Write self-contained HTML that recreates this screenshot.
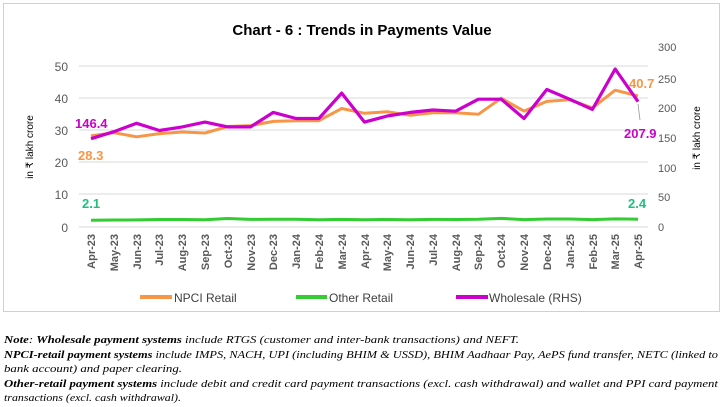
<!DOCTYPE html>
<html><head><meta charset="utf-8"><style>
body{margin:0;background:#fff;width:725px;height:407px;overflow:hidden}
svg{display:block}
text{font-family:"Liberation Sans",sans-serif}
</style></head><body>
<svg width="725" height="407" viewBox="0 0 725 407" xmlns="http://www.w3.org/2000/svg">
<rect x="3.5" y="3.5" width="716" height="308" fill="#fff" stroke="#d0d0d0"/>
<text x="362" y="35" text-anchor="middle" font-size="15" font-weight="bold" fill="#000">Chart - 6 : Trends in Payments Value</text>
<g stroke="#d9d9d9" stroke-width="1">
<line x1="79" y1="66" x2="648" y2="66"/><line x1="79" y1="98" x2="648" y2="98"/>
<line x1="79" y1="130" x2="648" y2="130"/><line x1="79" y1="162" x2="648" y2="162"/>
<line x1="79" y1="194" x2="648" y2="194"/><line x1="79" y1="227" x2="648" y2="227"/>
</g>
<g fill="#595959" font-size="12" text-anchor="end">
<text x="68" y="71">50</text><text x="68" y="103">40</text><text x="68" y="135">30</text>
<text x="68" y="167">20</text><text x="68" y="199">10</text><text x="68" y="232">0</text>
</g>
<g fill="#595959" font-size="11" text-anchor="start">
<text x="658" y="51">300</text><text x="658" y="83">250</text><text x="658" y="112">200</text>
<text x="658" y="142">150</text><text x="658" y="172">100</text><text x="658" y="201">50</text><text x="658" y="231">0</text>
</g>
<text transform="translate(33,147) rotate(-90)" text-anchor="middle" font-size="10" fill="#000">in ₹ lakh crore</text>
<text transform="translate(700,138) rotate(-90)" text-anchor="middle" font-size="10" fill="#000">in ₹ lakh crore</text>
<g font-size="11" font-weight="bold" fill="#595959" text-anchor="end">
<text transform="translate(95,234) rotate(-90)">Apr-23</text>
<text transform="translate(118,234) rotate(-90)">May-23</text>
<text transform="translate(141,234) rotate(-90)">Jun-23</text>
<text transform="translate(163,234) rotate(-90)">Jul-23</text>
<text transform="translate(186,234) rotate(-90)">Aug-23</text>
<text transform="translate(209,234) rotate(-90)">Sep-23</text>
<text transform="translate(232,234) rotate(-90)">Oct-23</text>
<text transform="translate(255,234) rotate(-90)">Nov-23</text>
<text transform="translate(277,234) rotate(-90)">Dec-23</text>
<text transform="translate(300,234) rotate(-90)">Jan-24</text>
<text transform="translate(323,234) rotate(-90)">Feb-24</text>
<text transform="translate(346,234) rotate(-90)">Mar-24</text>
<text transform="translate(369,234) rotate(-90)">Apr-24</text>
<text transform="translate(391,234) rotate(-90)">May-24</text>
<text transform="translate(414,234) rotate(-90)">Jun-24</text>
<text transform="translate(437,234) rotate(-90)">Jul-24</text>
<text transform="translate(460,234) rotate(-90)">Aug-24</text>
<text transform="translate(482,234) rotate(-90)">Sep-24</text>
<text transform="translate(505,234) rotate(-90)">Oct-24</text>
<text transform="translate(528,234) rotate(-90)">Nov-24</text>
<text transform="translate(551,234) rotate(-90)">Dec-24</text>
<text transform="translate(574,234) rotate(-90)">Jan-25</text>
<text transform="translate(597,234) rotate(-90)">Feb-25</text>
<text transform="translate(619,234) rotate(-90)">Mar-25</text>
<text transform="translate(642,234) rotate(-90)">Apr-25</text>
</g>
<polyline fill="none" stroke="#f79646" stroke-width="3" stroke-linejoin="round" points="91,135.9 113.8,132.7 136.6,136.8 159.4,133.6 182.2,132 205,133 227.7,126.5 250.5,125.6 273.3,121.4 296.1,120.7 318.9,120.7 341.7,108.5 364.5,113.3 387.3,111.7 410.1,115.3 432.9,112.7 455.6,112.7 478.4,114.3 501.2,98.2 524,111.1 546.8,101.4 569.6,99.8 592.4,107.9 615.2,90.2 638,95.9"/>
<polyline fill="none" stroke="#33cc33" stroke-width="3" stroke-linejoin="round" points="91,220.2 113.8,220 136.6,219.9 159.4,219.5 182.2,219.5 205,219.8 227.7,218.5 250.5,219.4 273.3,219.2 296.1,219.2 318.9,219.8 341.7,219.4 364.5,219.7 387.3,219.5 410.1,219.8 432.9,219.4 455.6,219.5 478.4,219.3 501.2,218.4 524,219.6 546.8,219 569.6,219 592.4,219.6 615.2,218.9 638,219.2"/>
<polyline fill="none" stroke="#cc00cc" stroke-width="3.2" stroke-linejoin="round" points="91,138.7 113.8,131.7 136.6,123.3 159.4,130.5 182.2,126.9 205,122.1 227.7,126.9 250.5,126.9 273.3,112.4 296.1,118.5 318.9,118.5 341.7,93.1 364.5,122.1 387.3,116 410.1,112.4 432.9,110 455.6,111.2 478.4,99.2 501.2,99.2 524,118.5 546.8,89.5 569.6,99.2 592.4,109.4 615.2,69 638,101.6"/>
<line x1="638" y1="104" x2="640" y2="120" stroke="#999" stroke-width="0.8"/>
<g font-size="13" font-weight="bold">
<text x="75" y="128" fill="#cc00cc">146.4</text>
<text x="78" y="160" fill="#f79646">28.3</text>
<text x="82" y="208" fill="#1fbf80">2.1</text>
<text x="629" y="88" fill="#f79646">40.7</text>
<text x="624" y="138" fill="#cc00cc">207.9</text>
<text x="628" y="208" fill="#1fbf80">2.4</text>
</g>
<g font-size="12" fill="#404040">
<line x1="140" y1="297" x2="172" y2="297" stroke="#f79646" stroke-width="4"/><text x="174" y="302">NPCI Retail</text>
<line x1="296" y1="297" x2="327" y2="297" stroke="#33cc33" stroke-width="4"/><text x="329" y="302">Other Retail</text>
<line x1="456" y1="297" x2="488" y2="297" stroke="#cc00cc" stroke-width="4"/><text x="489" y="302">Wholesale (RHS)</text>
</g>
<g font-size="10.5" font-style="italic" fill="#000" style="font-family:'Liberation Serif',serif">
<text x="4" y="343" textLength="515" lengthAdjust="spacingAndGlyphs" style="font-family:'Liberation Serif',serif"><tspan font-weight="bold">Note</tspan>: <tspan font-weight="bold">Wholesale payment systems</tspan> include RTGS (customer and inter-bank transactions) and NEFT.</text>
<text x="4" y="358" textLength="714" lengthAdjust="spacingAndGlyphs" style="font-family:'Liberation Serif',serif"><tspan font-weight="bold">NPCI-retail payment systems</tspan> include IMPS, NACH, UPI (including BHIM &amp; USSD), BHIM Aadhaar Pay, AePS fund transfer, NETC (linked to</text>
<text x="4" y="372" textLength="178" lengthAdjust="spacingAndGlyphs" style="font-family:'Liberation Serif',serif">bank account) and paper clearing.</text>
<text x="4" y="387" textLength="714" lengthAdjust="spacingAndGlyphs" style="font-family:'Liberation Serif',serif"><tspan font-weight="bold">Other-retail payment systems</tspan> include debit and credit card payment transactions (excl. cash withdrawal) and wallet and PPI card payment</text>
<text x="4" y="401" textLength="177" lengthAdjust="spacingAndGlyphs" style="font-family:'Liberation Serif',serif">transactions (excl. cash withdrawal).</text>
</g>
</svg>
</body></html>
